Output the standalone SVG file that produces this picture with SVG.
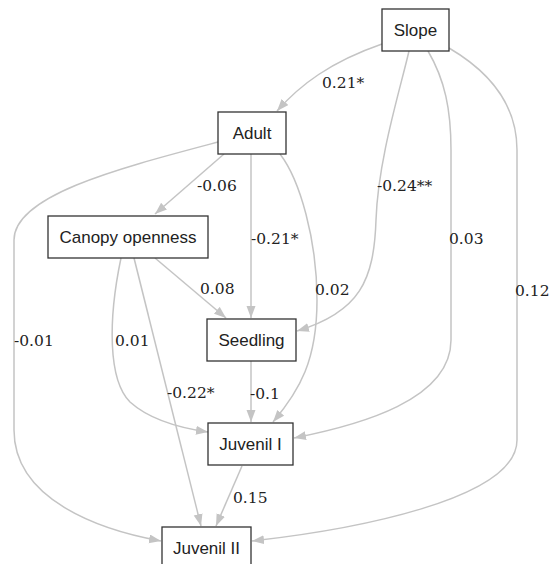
<svg xmlns="http://www.w3.org/2000/svg" width="550" height="564" viewBox="0 0 550 564">
<style>
.node rect{fill:#fff;stroke:#333;stroke-width:1.3}
.node text{font-family:"Liberation Sans",Arial,sans-serif;font-size:17px;fill:#222;text-anchor:middle}
.edges path{fill:none;stroke:#c4c4c4;stroke-width:1.5}
.lbl{font-family:"DejaVu Serif","Liberation Serif",serif;font-size:15.5px;fill:#222}
</style>
<defs>
<marker id="ah" markerUnits="userSpaceOnUse" markerWidth="14" markerHeight="12" refX="12" refY="4.5" orient="auto">
<path d="M0,0 L12,4.5 L0,9 Z" fill="#c4c4c4"/>
</marker>
</defs>
<rect width="550" height="564" fill="#fff"/>
<g id="edges" class="edges">
<path d="M382 44 C330 62 300 85 277 111" marker-end="url(#ah)"/>
<path d="M409 51 C400 90 378 160 376 220 C374 280 360 312 297 331" marker-end="url(#ah)"/>
<path d="M428 51 C445 80 451 110 451 150 L451 340 C451 400 360 425 294 438" marker-end="url(#ah)"/>
<path d="M449 48 C495 75 517 110 517 150 L517 440 C517 500 350 530 252 541" marker-end="url(#ah)"/>
<path d="M224 154 L155 214" marker-end="url(#ah)"/>
<path d="M251 154 L251 318" marker-end="url(#ah)"/>
<path d="M280 154 C300 180 317 240 317 300 C317 360 300 390 273 422" marker-end="url(#ah)"/>
<path d="M218 142 C120 168 14 195 14 240 L14 430 C14 500 100 530 161 541" marker-end="url(#ah)"/>
<path d="M155 258 L226 318" marker-end="url(#ah)"/>
<path d="M121 258 C108 320 108 380 130 402 C150 420 180 428 208 432" marker-end="url(#ah)"/>
<path d="M134 258 L201 526" marker-end="url(#ah)"/>
<path d="M251 361 L251 422" marker-end="url(#ah)"/>
<path d="M242 466 L216 526" marker-end="url(#ah)"/>
</g>
<g id="labels">
<text class="lbl" x="322" y="88">0.21*</text>
<text class="lbl" x="377" y="191">-0.24**</text>
<text class="lbl" x="449" y="244">0.03</text>
<text class="lbl" x="515" y="296">0.12</text>
<text class="lbl" x="197" y="191">-0.06</text>
<text class="lbl" x="251" y="244">-0.21*</text>
<text class="lbl" x="315" y="295">0.02</text>
<text class="lbl" x="200" y="294">0.08</text>
<text class="lbl" x="14" y="346">-0.01</text>
<text class="lbl" x="115" y="346">0.01</text>
<text class="lbl" x="167" y="398">-0.22*</text>
<text class="lbl" x="250" y="399">-0.1</text>
<text class="lbl" x="233" y="503">0.15</text>
</g>
<g id="slope" class="node"><rect x="382" y="9" width="67" height="42"/><text x="415.5" y="36">Slope</text></g>
<g id="adult" class="node"><rect x="218" y="112" width="68" height="42"/><text x="252" y="139">Adult</text></g>
<g id="canopy" class="node"><rect x="48" y="216" width="160" height="42"/><text x="128" y="243">Canopy openness</text></g>
<g id="seedling" class="node"><rect x="207" y="319" width="89" height="42"/><text x="251.5" y="346">Seedling</text></g>
<g id="juvenil1" class="node"><rect x="208" y="423" width="85" height="42"/><text x="250.5" y="450">Juvenil I</text></g>
<g id="juvenil2" class="node"><rect x="162" y="527" width="89" height="42"/><text x="206.5" y="554">Juvenil II</text></g>
</svg>
